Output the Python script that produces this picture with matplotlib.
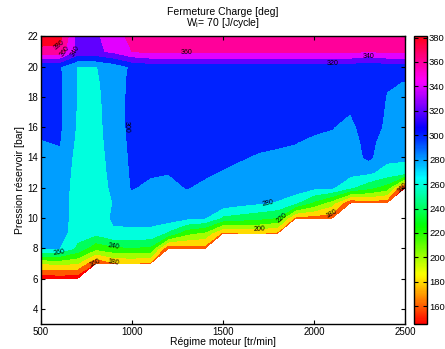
import numpy as np
import matplotlib
matplotlib.use('Agg')
import matplotlib.pyplot as plt
from matplotlib import cm, colors

plt.rcParams['font.family'] = ['Liberation Sans', 'DejaVu Sans']

N = np.nan

# engine speed [tr/min] and tank pressure [bar]
rpm = [500, 600, 700, 800, 900, 1000, 1100, 1200, 1300, 1400, 1500,
       1600, 1700, 1800, 1900, 2000, 2100, 2200, 2300, 2400, 2500]
pression = [6, 7, 8, 9, 10, 11, 12, 13, 14, 15, 16, 17, 18, 19, 20, 21, 22]

# fermeture charge [deg], one list per engine speed (pressure 6 -> 22)
fermeture_par_regime = [
    [145, 200, 283, 288, 290, 291, 292, 294, 297, 299, 304, 304, 304, 305, 302, 372, 395],
    [147, 205, 280, 289, 290, 290, 291, 293, 296, 301, 303, 303, 303, 303, 302, 372, 390],
    [146, 200, 255, 268, 270, 270, 271, 272, 273, 275, 277, 278, 279, 279, 279, 335, 330],
    [N, 158, 225, 265, 268, 265, 266, 268, 270, 272, 273, 274, 275, 277, 279, 335, 336],
    [N, 178, 235, 277, 283, 281, 285, 287, 288, 289, 290, 290, 290, 289, 288, 345, 352],
    [N, 180, 238, 276, 285, 290, 301, 302, 303, 304, 305, 305, 305, 305, 303, 360, 365],
    [N, 176, 235, 275, 286, 292, 296, 302, 305, 307, 308, 308, 308, 308, 308, 365, 372],
    [N, N, 160, 255, 290, 293, 295, 300.5, 305, 308, 309, 309, 309, 309, 309, 365, 372],
    [N, N, 170, 225, 284, 292, 300.5, 304, 307, 308, 309, 309, 309, 309, 309, 365, 372],
    [N, N, 172, 215, 280, 290, 297, 302, 306, 308, 309, 309, 309, 309, 309, 365, 372],
    [N, N, N, 175, 255, 292, 295, 299, 304, 307, 308, 309, 309, 309, 309, 365, 372],
    [N, N, N, 180, 250, 286, 292, 298, 300.5, 304, 306, 307, 308, 308, 309, 365, 372],
    [N, N, N, 182, 245, 282, 290, 295, 299, 302, 305, 306, 307, 308, 309, 365, 372],
    [N, N, N, 175, 238, 278, 290, 294, 297, 302, 304, 306, 307, 308, 309, 365, 372],
    [N, N, N, N, 172, 262, 292, 295, 298, 300.2, 303, 305, 306, 307, 309, 365, 372],
    [N, N, N, N, 170, 235, 284, 292, 295, 298, 302, 304, 306, 307, 309, 365, 372],
    [N, N, N, N, 168, 208, 282, 290, 294, 297, 300.5, 304, 306, 307, 309, 365, 372],
    [N, N, N, N, N, 158, 262, 286, 290, 292, 295, 300.5, 304, 306, 308, 365, 372],
    [N, N, N, N, N, 170, 245, 283, 304, 306, 310, 312, 313, 312, 303, 360, 370],
    [N, N, N, N, N, 165, 230, 272, 285, 290, 296, 297.5, 299, 302, 308, 365, 372],
    [N, N, N, N, N, N, 148, 268, 284, 288, 291, 294, 297, 299.5, 310, 365, 372],
]

niveaux = list(range(140, 401, 20))
cbar_ticks = list(range(160, 381, 20))

X, Y = np.meshgrid(rpm, pression)
Z = np.ma.masked_invalid(np.array(fermeture_par_regime, dtype=float).T)

norm = colors.Normalize(vmin=145.5, vmax=381)
cmap = plt.get_cmap('hsv')
# matlab style: each band takes the colour of its lower level
band_colors = [cmap(norm(v)) for v in niveaux[:-1]]

fig = plt.figure(figsize=(4.45, 3.49), dpi=100)
ax = fig.add_axes([41/445, 1 - 324/349, 364/445, 287.7/349])
cax = fig.add_axes([414/445, 1 - 324/349, 13/445, 287.7/349])

ax.contourf(X, Y, Z, levels=niveaux, colors=band_colors)
cs = ax.contour(X, Y, Z, levels=niveaux[1:-1], colors='k', linewidths=0)
ax.clabel(cs, fmt='%d', fontsize=5, inline=False)

ax.set_xlim(500, 2500)
ax.set_ylim(3, 22)
ax.set_xticks([500, 1000, 1500, 2000, 2500])
ax.set_yticks(range(4, 23, 2))
ax.tick_params(direction='in', top=True, right=True, labelsize=7, length=3, width=0.8, pad=2)
for s in ax.spines.values():
    s.set_linewidth(1.0)

ax.set_title('Fermeture Charge [deg]\nW$_\\mathregular{i}$= 70 [J/cycle]', fontsize=7.5,
             pad=7.5, linespacing=0.85)
ax.set_xlabel('Régime moteur [tr/min]', fontsize=7.5, labelpad=0)
ax.set_ylabel('Pression réservoir [bar]', fontsize=7.5, labelpad=2)

cb = fig.colorbar(cm.ScalarMappable(norm=norm, cmap=cmap), cax=cax, ticks=cbar_ticks)
cb.ax.tick_params(direction='in', left=True, right=True, labelsize=6.8, length=3, width=0.8, pad=1.5)
cb.outline.set_linewidth(1.0)

fig.savefig('out.png', dpi=100)
